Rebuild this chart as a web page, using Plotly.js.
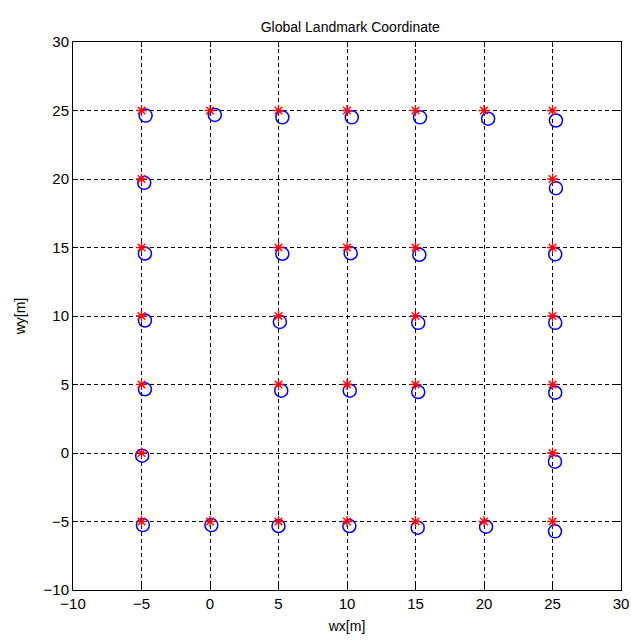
<!DOCTYPE html>
<html>
<head>
<meta charset="utf-8">
<script src="https://cdn.plot.ly/plotly-3.0.1.min.js"></script>
<style>html,body{margin:0;padding:0;background:#fff;}#chart{width:631px;height:641px;}</style>
</head>
<body>
<div id="chart"></div>
<script>
// True landmark positions (red *)
const trueX = [-5,0,5,10,15,20,25, -5,25, -5,5,10,15,25, -5,5,15,25, -5,5,10,15,25, -5,25, -5,0,5,10,15,20,25];
const trueY = [25,25,25,25,25,25,25, 20,20, 15,15,15,15,15, 10,10,10,10, 5,5,5,5,5, 0,0, -5,-5,-5,-5,-5,-5,-5];
// Estimated landmark positions (blue o)
const estX = [-4.7,0.35,5.28,10.35,15.33,20.3,25.25, -4.8,25.25, -4.75,5.28,10.27,15.28,25.2, -4.75,5.1,15.2,25.2, -4.75,5.2,10.2,15.2,25.2, -4.95,25.18, -4.9,0.1,5.0,10.17,15.16,20.15,25.18];
const estY = [24.63,24.68,24.5,24.5,24.5,24.4,24.27, 19.72,19.33, 14.56,14.54,14.58,14.47,14.5, 9.67,9.57,9.5,9.5, 4.65,4.55,4.55,4.45,4.4, -0.2,-0.63, -5.26,-5.26,-5.33,-5.33,-5.45,-5.38,-5.72];
const tickVals = [-10,-5,0,5,10,15,20,25,30];
const tickText = ['\u221210','\u22125','0','5','10','15','20','25','30'];

const traces = [
  {x: estX, y: estY, type:'scatter', mode:'markers', name:'estimate',
   marker:{symbol:'circle-open', size:13, color:'#0000ff', line:{width:1.5, color:'#0000ff'}}},
  {x: trueX, y: trueY, type:'scatter', mode:'markers', name:'true',
   marker:{symbol:'asterisk-open', size:9, color:'#ff0000', line:{width:1.3, color:'#ff0000'}}}
];

const FONT = 'Liberation Sans, Arial, sans-serif';
const axisCommon = {
  tickvals: tickVals, ticktext: tickText,
  showgrid:true, gridcolor:'#000000', gridwidth:1, griddash:'4px,3px',
  zeroline:false, showline:true, linecolor:'#000000', linewidth:1, mirror:'ticks',
  ticks:'inside', ticklen:5, tickcolor:'#000000',
  tickfont:{family:FONT, size:15, color:'#000'},
  fixedrange:true
};

const layout = {
  width:631, height:641,
  margin:{l:73, r:10, t:42, b:51, pad:0},
  paper_bgcolor:'#ffffff', plot_bgcolor:'#ffffff',
  showlegend:false,
  title:{text:'Global Landmark Coordinate', x:0.555, xanchor:'center', yref:'container', y:0.957, yanchor:'middle',
         font:{family:FONT, size:14, color:'#000'}},
  xaxis: Object.assign({}, axisCommon, {range:[-10,30],
         title:{text:'wx[m]', standoff:10, font:{family:FONT, size:14, color:'#000'}}}),
  yaxis: Object.assign({}, axisCommon, {range:[-10,30],
         title:{text:'wy[m]', standoff:14, font:{family:FONT, size:14, color:'#000'}}})
};

Plotly.newPlot('chart', traces, layout, {displayModeBar:false, staticPlot:true});
</script>
</body>
</html>
